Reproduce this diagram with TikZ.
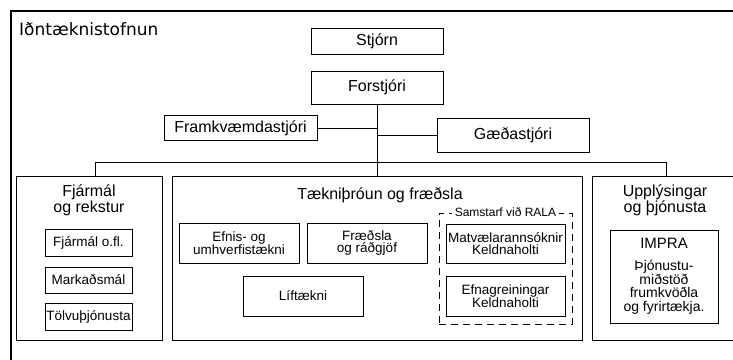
\documentclass[tikz,border=0pt]{standalone}
\usepackage{fontspec}
\setmainfont{Liberation Sans}
\newfontfamily\titlefont{DejaVu Sans}
\begin{document}
\begin{tikzpicture}[x=1pt,y=-1pt,
  box/.style={draw, line width=0.9pt, inner sep=0pt, align=center},
  big/.style={font=\fontsize{16}{15.5}\selectfont},
  small/.style={font=\fontsize{13.5}{12.8}\selectfont},
  plain/.style={inner sep=0pt, align=center},
  conn/.style={line width=0.9pt}]
\clip (0,0) rectangle (733,359);
\fill[white] (0,0) rectangle (733,359);
% outer frame (cropped)
\draw[line width=1.6pt] (11,380) -- (11,11) -- (760,11);
\node[plain, anchor=west, font=\titlefont\fontsize{17}{18}\selectfont] (org) at (19,29) {Iðntæknistofnun};
% top boxes
\node[box, big, minimum width=132pt, minimum height=26pt] (stjorn) at (377,41) {Stjórn};
\node[box, big, minimum width=132pt, minimum height=33pt] (forstjori) at (377,87.5) {Forstjóri};
\node[box, big, minimum width=153pt, minimum height=25pt] (framkv) at (240.5,128) {Framkvæmdastjóri};
\node[box, big, minimum width=152pt, minimum height=34pt] (gaeda) at (513,135) {Gæðastjóri};
% divisions
\node[box, minimum width=146pt, minimum height=164pt] (fjarmal) at (89,258) {};
\node[box, minimum width=410pt, minimum height=164pt] (taekni) at (377,258) {};
\node[box, minimum width=170pt, minimum height=164pt] (uppl) at (677,258) {};
% connectors
\draw[conn] (forstjori.south) -- (taekni.north);
\draw[conn] (framkv.east) -- (framkv.east -| forstjori.south);
\draw[conn] (gaeda.west) -- (gaeda.west -| forstjori.south);
\coordinate (busL) at (95,162);
\coordinate (busR) at (666,162);
\draw[conn] (busL |- fjarmal.north) -- (busL) -- (busR) -- (busR |- uppl.north);
% Fjarmal
\node[plain, big] (fjt) at (89,200.5) {Fjármál\\og rekstur};
\node[box, small, minimum width=87pt, minimum height=27pt] (fjo) at (88.5,242.5) {Fjármál o.fl.};
\node[box, small, minimum width=87pt, minimum height=26pt] (mark) at (88.5,280) {Markaðsmál};
\node[box, small, minimum width=87pt, minimum height=27pt] (tolvu) at (88.5,316.5) {Tölvuþjónusta};
% Taekni
\node[plain, big] (tkt) at (380,195) {Tækniþróun og fræðsla};
\node[box, small, minimum width=120pt, minimum height=40pt] (efnis) at (239,243) {Efnis- og\\umhverfistækni};
\node[box, small, minimum width=120pt, minimum height=40pt] (fraedsla) at (367,243) {Fræðsla\\og ráðgjöf};
\node[box, small, minimum width=120pt, minimum height=40pt] (lif) at (303,296) {Líftækni};
\node[draw, line width=0.9pt, dash pattern=on 7pt off 5pt, minimum width=133pt, minimum height=111pt, inner sep=0pt] (rala) at (505.5,268.5) {};
\node[plain, fill=white, inner xsep=3pt, font=\fontsize{12}{12}\selectfont] (ralat) at (rala.north) {Samstarf við RALA};
\node[box, small, minimum width=119pt, minimum height=39pt] (matv) at (505.5,243.5) {Matvælarannsóknir\\Keldnaholti};
\node[box, small, minimum width=119pt, minimum height=40pt] (efnag) at (505.5,296) {Efnagreiningar\\Keldnaholti};
% Upplysingar
\node[plain, big] (upt) at (665,200.5) {Upplýsingar\\og þjónusta};
\node[box, minimum width=108pt, minimum height=93pt] (impra) at (664,276.5) {};
\node[plain, font=\fontsize{15}{15}\selectfont] (imprat) at (664,243) {IMPRA};
\node[plain, font=\fontsize{14}{13.2}\selectfont] (imprad) at (664,287) {Þjónustu-\\miðstöð\\frumkvöðla\\og fyrirtækja.};
\end{tikzpicture}
\end{document}
